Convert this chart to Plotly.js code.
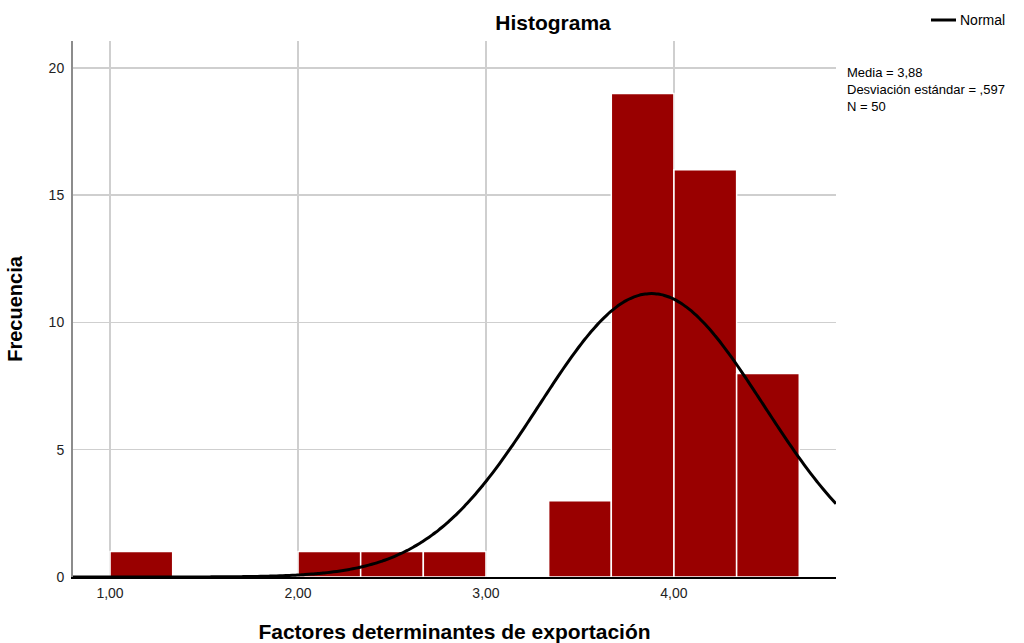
<!DOCTYPE html>
<html>
<head>
<meta charset="utf-8">
<script src="https://cdn.plot.ly/plotly-3.0.1.min.js"></script>
<style>html,body{margin:0;padding:0;background:#fff;}#chart{width:1024px;height:643px;}</style>
</head>
<body>
<div id="chart"></div>
<script>
// Histogram bins
var binCenters = [1.1667, 2.1667, 2.5, 2.8333, 3.5, 3.8333, 4.1667, 4.5];
var counts = [1, 1, 1, 1, 3, 19, 16, 8];
var binWidth = 0.3333;
// Normal curve parameters shown on the chart
var mean = 3.88;
var sd = 0.597;
var n = 50;
var xTickVals = [1, 2, 3, 4];
var xTickText = ['1,00', '2,00', '3,00', '4,00'];
var yTickVals = [0, 5, 10, 15, 20];
var statsLines = ['Media = 3,88', 'Desviación estándar = ,597', 'N = 50'];
var legendLabel = 'Normal';

var xMin = 0.803, xMax = 4.862;
var curveX = [], curveY = [];
for (var i = 0; i <= 240; i++) {
  var x = xMin + (xMax - xMin) * i / 240;
  curveX.push(x);
  curveY.push(n * binWidth / (sd * Math.sqrt(2 * Math.PI)) * Math.exp(-0.5 * Math.pow((x - mean) / sd, 2)));
}

var font = 'Liberation Sans, Arial, sans-serif';
var traces = [
  {type: 'bar', x: binCenters, y: counts, width: binWidth,
   marker: {color: '#990000', line: {color: '#ffffff', width: 1.5}},
   showlegend: false, hoverinfo: 'x+y'},
  {type: 'scatter', mode: 'lines', x: curveX, y: curveY, name: legendLabel,
   line: {color: '#000000', width: 3, shape: 'spline'}, showlegend: false}
];

var L = 73, PW = 763, T = 41, PH = 536;
function px(xp) { return (xp - L) / PW; }
function py(yp) { return (T + PH - yp) / PH; }

var annotations = [
  {xref: 'paper', yref: 'paper', x: px(845), y: py(89), align: 'left',
    xanchor: 'left', yanchor: 'middle', text: statsLines.join('<br>'), showarrow: false,
    font: {family: font, size: 13, color: '#000'}},
  {xref: 'paper', yref: 'paper', x: px(958), y: py(20.5),
    xanchor: 'left', yanchor: 'middle', text: legendLabel, showarrow: false,
    font: {family: font, size: 14, color: '#000'}}
];

var layout = {
  width: 1024, height: 643,
  margin: {l: L, r: 1024 - L - PW, t: T, b: 643 - T - PH, pad: 0},
  paper_bgcolor: '#ffffff', plot_bgcolor: '#ffffff',
  font: {family: font, size: 14, color: '#222'},
  showlegend: false,
  title: {text: '<b>Histograma</b>', x: 553 / 1024, xref: 'container', xanchor: 'center',
    y: 1 - 23 / 643, yref: 'container', yanchor: 'middle',
    font: {family: font, size: 21, color: '#000'}},
  xaxis: {range: [xMin, xMax], tickvals: xTickVals, ticktext: xTickText, automargin: false,
    showgrid: true, gridcolor: '#cfcfcf', gridwidth: 1.5, zeroline: false,
    showline: true, linecolor: '#000', linewidth: 2, ticks: '', ticklabelstandoff: 2,
    tickfont: {family: font, size: 14, color: '#222'},
    title: {text: '<b>Factores determinantes de exportación</b>', standoff: 28,
      font: {family: font, size: 21, color: '#000'}}},
  yaxis: {range: [0, 21.06], tickvals: yTickVals, automargin: false,
    showgrid: true, gridcolor: '#cfcfcf', gridwidth: 1.5, zeroline: false,
    showline: true, linecolor: '#8c8c8c', linewidth: 2, ticks: '', ticklabelstandoff: 4,
    tickfont: {family: font, size: 14, color: '#222'},
    title: {text: '<b>Frecuencia</b>', standoff: 21,
      font: {family: font, size: 20, color: '#000'}}},
  shapes: [{type: 'line', xref: 'paper', yref: 'paper', x0: px(931), x1: px(956),
    y0: py(20), y1: py(20), line: {color: '#000', width: 3}}],
  bargap: 0,
  annotations: annotations
};

Plotly.newPlot('chart', traces, layout, {displayModeBar: false, staticPlot: true});
</script>
</body>
</html>
